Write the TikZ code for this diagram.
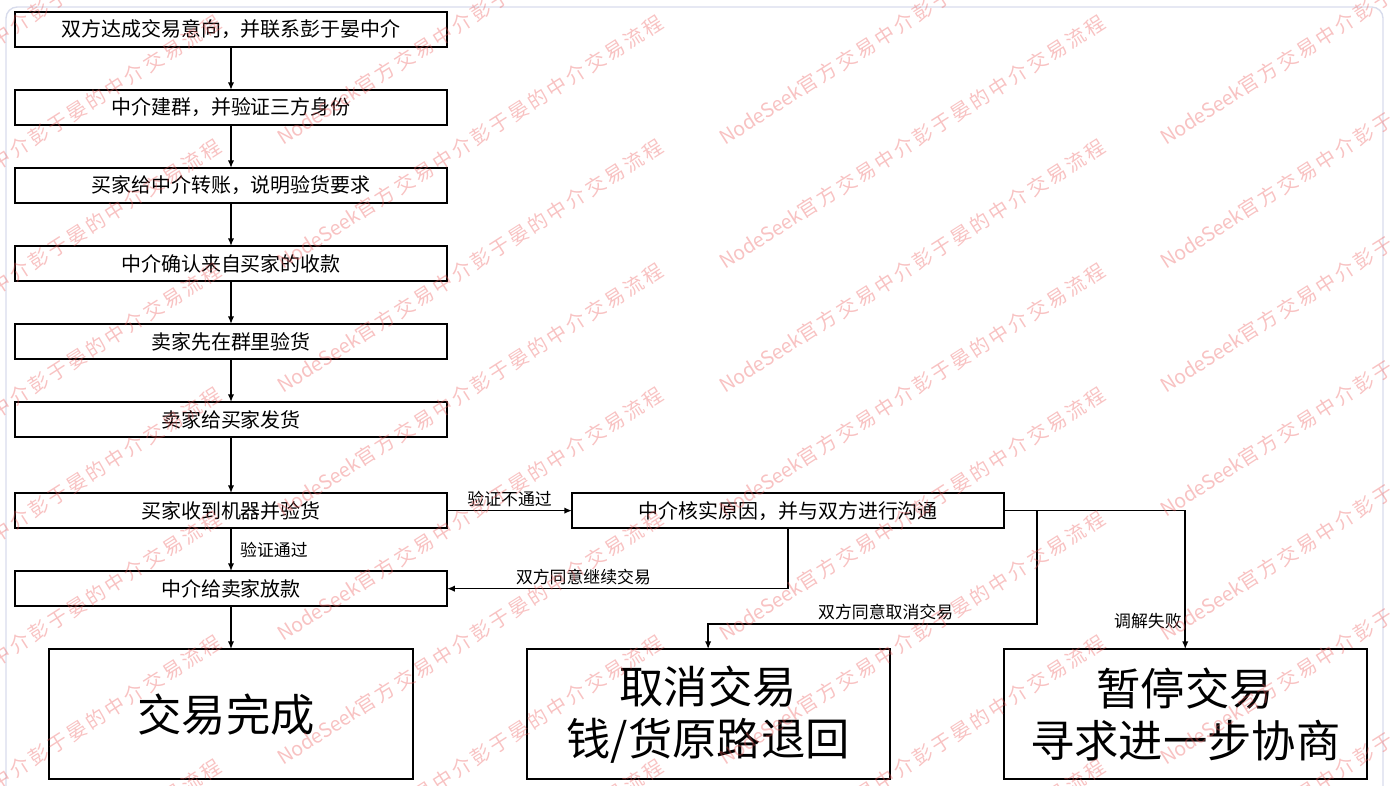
\documentclass[tikz,border=0pt]{standalone}
\usepackage{fontspec}
\setmainfont{Noto Sans CJK SC}
\newfontfamily\wmspaced[LetterSpace=15]{Noto Sans CJK SC}
\usetikzlibrary{positioning,arrows.meta}
\definecolor{framegray}{RGB}{216,220,236}
\definecolor{wmpink}{RGB}{235,90,90}
\newcommand{\wmtext}{NodeSeek{\wmspaced 官方交易中介彭于晏的中介交易流程}}

\begin{document}
\begin{tikzpicture}[x = 0.025cm, y = -0.025cm,
    stepbox/.style = { draw, line width = 1.4pt, outer sep = 0pt, minimum width = 10.8cm, minimum height = 0.875cm, inner sep = 0pt, font = \fontsize{14.2}{17}\selectfont },
    endbox/.style = { draw, line width = 1.4pt, outer sep = 0pt, align = center, minimum width = 9.075cm, minimum height = 3.25cm, inner sep = 0pt, font = \fontsize{31.5}{37}\selectfont },
    flow/.style = { line width = 1.1pt, -{Latex[length = 5.5pt, width = 4.5pt]} },
    lbl/.style = { font = \fontsize{12}{14}\selectfont, inner sep = 2pt },
    wmark/.style = { wmpink, opacity = 0.37, rotate = 32.5, anchor = base west, inner sep = 0pt, font = \fontsize{14}{17}\selectfont },
    node distance = 1.075cm ]
    \useasboundingbox (0,0) rectangle (1391,785);
    \clip (0,0) rectangle (1391,785);
    \draw [framegray, line width = 1pt, rounded corners = 8pt] (6,7) rectangle (1383,830);

    % main column
    \node [stepbox] (agree) at (231,29.5) { 双方达成交易意向，并联系彭于晏中介 };
    \node [stepbox, below = of agree] (group) { 中介建群，并验证三方身份 };
    \node [stepbox, below = of group] (pay) { 买家给中介转账，说明验货要求 };
    \node [stepbox, below = of pay] (confirm) { 中介确认来自买家的收款 };
    \node [stepbox, below = of confirm] (precheck) { 卖家先在群里验货 };
    \node [stepbox, below = of precheck] (ship) { 卖家给买家发货 };
    \node [stepbox, below = 1.4cm of ship] (receive) { 买家收到机器并验货 };
    \node [stepbox, below = of receive] (release) { 中介给卖家放款 };
    \node [endbox, below = of release] (done) { 交易完成 };

    % dispute branch
    \node [stepbox, right = 3.125cm of receive] (verify) { 中介核实原因，并与双方进行沟通 };
    \node [endbox, right = 2.85cm of done] (cancel) { 取消交易 \\ 钱/货原路退回 };
    \node [endbox, right = 2.85cm of cancel] (pause) { 暂停交易 \\ 寻求进一步协商 };
    \coordinate (bend) at (1037,624);
    \coordinate (fork) at (verify.east -| bend);

    \draw [flow] (agree) -- (group);
    \draw [flow] (group) -- (pay);
    \draw [flow] (pay) -- (confirm);
    \draw [flow] (confirm) -- (precheck);
    \draw [flow] (precheck) -- (ship);
    \draw [flow] (ship) -- (receive);
    \draw [flow] (receive) -- node [lbl, right, xshift = 4pt] { 验证通过 } (release);
    \draw [flow] (release) -- (done);
    \draw [flow] (receive) -- node [lbl, above] { 验证不通过 } (verify);
    \draw [flow] (verify.south) |- node [lbl, above, pos = 0.8] { 双方同意继续交易 } (release.east);
    \draw [flow] (verify.east) -| node [lbl, left, pos = 0.9] { 调解失败 } (pause.north);
    \draw [flow] (fork) -- (bend) -| node [lbl, above, pos = 0.23] { 双方同意取消交易 } (cancel.north);

    % watermark
    \foreach \wx in {-159,283,725,1166} {
      \foreach \wy in {146,270,...,1014} {
        \node [wmark] (wm\wx\wy) at (\wx,\wy) { \wmtext };
      }
    }
\end{tikzpicture}
\end{document}
